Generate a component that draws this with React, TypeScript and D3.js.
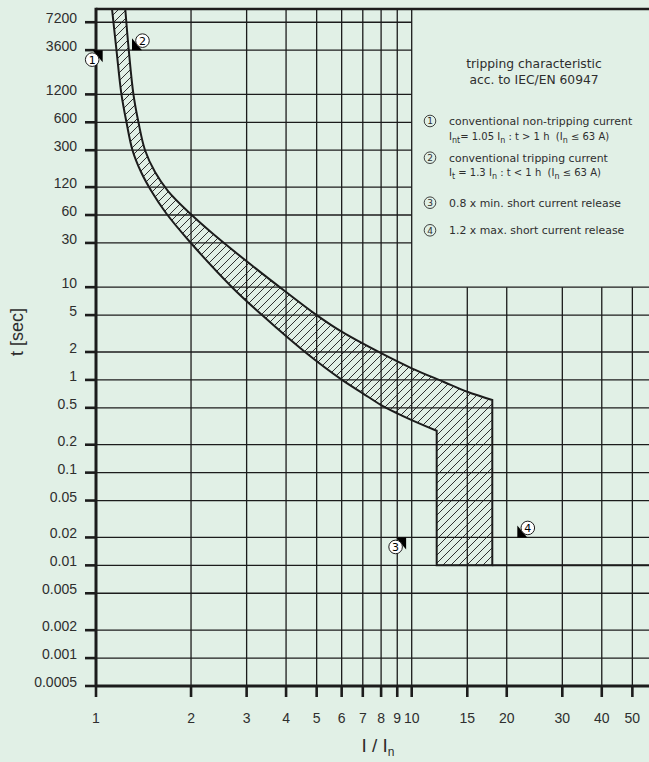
import { useEffect, useRef } from "react";
import * as d3 from "d3";

const W = 649;
const H = 762;
const FONT = "'Liberation Sans', Arial, sans-serif";
const LEGEND_FONT = "'DejaVu Sans', sans-serif";

const xTicks = [1, 2, 3, 4, 5, 6, 7, 8, 9, 10, 15, 20, 30, 40, 50];
const yTicks = [7200, 3600, 1200, 600, 300, 120, 60, 30, 10, 5, 2, 1, 0.5, 0.2, 0.1, 0.05, 0.02, 0.01, 0.005, 0.002, 0.001, 0.0005];

// lower edge of the band (non-tripping), I/In and t[sec]
const lowI = [1.124, 1.161, 1.204, 1.249, 1.305, 1.389, 1.504, 1.666, 1.985, 2.697, 3.357, 4.592, 6.016, 7, 8, 9, 10, 12];
const lowT = [10000, 3600, 1200, 600, 300, 174.6, 106.2, 63.1, 30.7, 10, 5, 2, 1, 0.717, 0.536, 0.436, 0.369, 0.283];

// upper edge of the band (tripping)
const highI = [1.238, 1.27, 1.314, 1.363, 1.43, 1.538, 1.691, 1.995, 2.331, 3.008, 4, 5, 6, 8, 10, 12.6, 15, 18];
const highT = [10000, 3600, 1200, 600, 300, 174.6, 108.9, 61.5, 38.4, 18.9, 8.87, 5, 3.31, 1.94, 1.334, 0.956, 0.746, 0.607];

// short circuit release
const magMinI = 12;
const magMaxI = 18;
const magT = 0.01;

const markerNo = ["1", "2", "3", "4"];
const markerI = [1.05, 1.3, 9.6, 21.6];
const markerT = [3600, 3600, 0.02, 0.02];
const markerSide = [-1, 1, -1, 1];

const legendTitle = ["tripping characteristic", "acc. to IEC/EN 60947"];
const legendLine1 = [
    "conventional non-tripping current",
    "conventional tripping current",
    "0.8 x min. short current release",
    "1.2 x max. short current release",
];
const legendLine2 = [
    "I_{nt}= 1.05 I_{n} : t > 1 h  (I_{n} ≤ 63 A)",
    "I_{t} = 1.3 I_{n} : t < 1 h  (I_{n} ≤ 63 A)",
    "",
    "",
];

const App = () => {
    const chartRef = useRef<SVGSVGElement>(null);

    useEffect(() => {
        const svg = d3.select(chartRef.current);
        svg.selectAll("*").remove();

        const x = d3.scaleLog().domain([1, 10]).range([96, 411.7]);
        const y = d3.scaleLog().domain([0.0005, 10000]).range([686, 9]);
        const left = x(1);
        const right = W;
        const top = y(10000);
        const bottom = y(0.0005);
        const ink = "#1c1c1c";
        const textCol = "#2e2e2e";

        svg.append("rect").attr("width", W).attr("height", H).attr("fill", "#e1f0e6");

        const defs = svg.append("defs");
        const pat = defs.append("pattern")
            .attr("id", "hatch")
            .attr("patternUnits", "userSpaceOnUse")
            .attr("width", 8)
            .attr("height", 8);
        pat.append("path")
            .attr("d", "M-2,2 L2,-2 M0,8 L8,0 M6,10 L10,6")
            .attr("stroke", ink)
            .attr("stroke-width", 0.9);

        // grid
        svg.append("g")
            .selectAll("line")
            .data(yTicks.filter(t => t > 0.0005))
            .join("line")
            .attr("x1", left)
            .attr("x2", t => (t > 10 ? x(10) : right))
            .attr("y1", t => y(t))
            .attr("y2", t => y(t))
            .attr("stroke", ink)
            .attr("stroke-width", 1.3);

        svg.append("g")
            .selectAll("line")
            .data(xTicks.filter(v => v > 1))
            .join("line")
            .attr("x1", v => x(v))
            .attr("x2", v => x(v))
            .attr("y1", v => (v > 10 ? y(10) : top))
            .attr("y2", bottom)
            .attr("stroke", ink)
            .attr("stroke-width", 1.3);

        // band
        const curve = d3.line<[number, number]>()
            .x(d => x(d[0]))
            .y(d => y(d[1]))
            .curve(d3.curveCatmullRom.alpha(0.5));
        const lowPts = lowI.map((v, i) => [v, lowT[i]] as [number, number]);
        const highPts = highI.map((v, i) => [v, highT[i]] as [number, number]).reverse();
        const bandPath = curve(lowPts)
            + `L${x(magMinI)},${y(magT)}`
            + `L${x(magMaxI)},${y(magT)}`
            + (curve(highPts) as string).replace(/^M/, "L")
            + "Z";

        svg.append("path")
            .attr("d", bandPath)
            .attr("fill", "url(#hatch)")
            .attr("stroke", ink)
            .attr("stroke-width", 2)
            .attr("stroke-linejoin", "miter");

        svg.append("line")
            .attr("x1", x(magMaxI))
            .attr("x2", right)
            .attr("y1", y(magT))
            .attr("y2", y(magT))
            .attr("stroke", ink)
            .attr("stroke-width", 2);

        // frame and ticks
        svg.append("line")
            .attr("x1", left).attr("x2", right)
            .attr("y1", top).attr("y2", top)
            .attr("stroke", ink).attr("stroke-width", 2.6);
        svg.append("line")
            .attr("x1", left).attr("x2", left)
            .attr("y1", top - 1.3).attr("y2", bottom)
            .attr("stroke", ink).attr("stroke-width", 3);
        svg.append("line")
            .attr("x1", left).attr("x2", right)
            .attr("y1", bottom).attr("y2", bottom)
            .attr("stroke", ink).attr("stroke-width", 3);

        svg.append("g")
            .selectAll("line")
            .data(yTicks)
            .join("line")
            .attr("x1", left - 11)
            .attr("x2", left)
            .attr("y1", t => y(t))
            .attr("y2", t => y(t))
            .attr("stroke", ink)
            .attr("stroke-width", 2.6);

        svg.append("g")
            .selectAll("line")
            .data(xTicks)
            .join("line")
            .attr("x1", v => x(v))
            .attr("x2", v => x(v))
            .attr("y1", bottom)
            .attr("y2", bottom + 11)
            .attr("stroke", ink)
            .attr("stroke-width", 2.6);

        svg.append("g")
            .selectAll("text")
            .data(yTicks)
            .join("text")
            .attr("x", left - 19)
            .attr("y", t => y(t) + 1)
            .attr("text-anchor", "end")
            .style("font-family", FONT)
            .style("font-size", "14px")
            .attr("fill", textCol)
            .text(t => String(t));

        svg.append("g")
            .selectAll("text")
            .data(xTicks)
            .join("text")
            .attr("x", v => x(v))
            .attr("y", 723)
            .attr("text-anchor", "middle")
            .style("font-family", FONT)
            .style("font-size", "14px")
            .attr("fill", textCol)
            .text(v => String(v));

        // axis titles
        svg.append("text")
            .attr("transform", "translate(23,332) rotate(-90)")
            .attr("text-anchor", "middle")
            .style("font-family", FONT)
            .style("font-size", "18px")
            .attr("fill", textCol)
            .text("t [sec]");

        const xt = svg.append("text")
            .attr("x", 378)
            .attr("y", 752)
            .attr("text-anchor", "middle")
            .style("font-family", FONT)
            .style("font-size", "19px")
            .attr("fill", textCol);
        xt.append("tspan").text("I / I");
        xt.append("tspan").attr("dy", 4).style("font-size", "12px").text("n");

        // markers
        markerNo.forEach((n, i) => {
            const ax = x(markerI[i]);
            const ay = y(markerT[i]);
            const s = markerSide[i];
            svg.append("path")
                .attr("d", `M${ax},${ay} L${ax + s * 10},${ay} L${ax},${ay - s * 12} Z`)
                .attr("fill", "#000");
            svg.append("circle")
                .attr("cx", ax + s * 10.5)
                .attr("cy", ay - s * 9.5)
                .attr("r", 6.8)
                .attr("fill", "#fff")
                .attr("stroke", ink)
                .attr("stroke-width", 1);
            svg.append("text")
                .attr("x", ax + s * 10.5)
                .attr("y", ay - s * 9.5 + 4)
                .attr("text-anchor", "middle")
                .style("font-family", LEGEND_FONT)
                .style("font-size", "11px")
                .attr("fill", "#000")
                .text(n);
        });

        // legend
        const lg = svg.append("g");
        legendTitle.forEach((t, i) => {
            lg.append("text")
                .attr("x", 534)
                .attr("y", 68 + i * 16.3)
                .attr("text-anchor", "middle")
                .style("font-family", LEGEND_FONT)
                .style("font-size", "12.3px")
                .attr("fill", textCol)
                .text(t);
        });

        const rowY = [125, 161.7, 206.7, 234.3];
        legendLine1.forEach((t, i) => {
            const by = rowY[i];
            lg.append("circle")
                .attr("cx", 430)
                .attr("cy", by - 4)
                .attr("r", 5.8)
                .attr("fill", "none")
                .attr("stroke", textCol)
                .attr("stroke-width", 0.9);
            lg.append("text")
                .attr("x", 430)
                .attr("y", by - 0.6)
                .attr("text-anchor", "middle")
                .style("font-family", LEGEND_FONT)
                .style("font-size", "9px")
                .attr("fill", textCol)
                .text(markerNo[i]);
            lg.append("text")
                .attr("x", 449)
                .attr("y", by)
                .style("font-family", LEGEND_FONT)
                .style("font-size", "10.9px")
                .attr("fill", textCol)
                .text(t);
            if (legendLine2[i]) {
                const t2 = lg.append("text")
                    .attr("x", 449)
                    .attr("y", by + 14.5)
                    .style("font-family", LEGEND_FONT)
                    .style("font-size", "10px")
                    .style("white-space", "pre")
                    .attr("fill", textCol);
                const parts = legendLine2[i].split(/_\{(.*?)\}/);
                let shifted = false;
                parts.forEach((p, k) => {
                    if (!p) return;
                    const isSub = k % 2 === 1;
                    const sp = t2.append("tspan").text(p);
                    if (isSub) {
                        sp.attr("dy", shifted ? 0 : 3).style("font-size", "8px");
                        shifted = true;
                    } else if (shifted) {
                        sp.attr("dy", -3);
                        shifted = false;
                    }
                });
            }
        });

        return () => {
            d3.select(chartRef.current).selectAll("*").remove();
        };
    }, []);

    return (
        <div style={{ position: "absolute", left: 0, top: 0 }}>
            <svg ref={chartRef} width={W} height={H} style={{ display: "block" }}></svg>
        </div>
    );
};

export default App;
